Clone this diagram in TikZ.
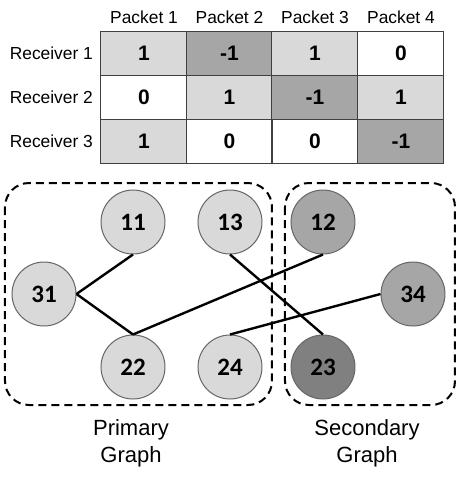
\documentclass[tikz,border=0pt]{standalone}
\usepackage{fontspec}
\setmainfont{Liberation Sans}
\newfontfamily\numfont{Carlito}
\begin{document}
\begin{tikzpicture}[x=0.5pt,y=-0.5pt,
head/.style={font=\fontsize{8.7}{10}\selectfont},
rowlabel/.style={anchor=east,font=\fontsize{8.7}{10}\selectfont},
cell/.style={draw=black!75,line width=0.5pt,minimum width=43pt,minimum height=22pt,inner sep=0,font=\fontsize{10.5}{12}\selectfont\bfseries},
lite/.style={fill=black!15},
dark/.style={fill=black!35},
vertex/.style={circle,draw=black!60,line width=0.5pt,minimum size=32pt,inner sep=0,font=\fontsize{12.5}{14}\selectfont\numfont\bfseries},
edge/.style={line width=1.2pt},
group/.style={draw,line width=1pt,dash pattern=on 4pt off 2.5pt,rounded corners=12pt},
caption/.style={align=center,font=\fontsize{11}{13.5}\selectfont},
]
\useasboundingbox (0,0) rectangle (457,484);
%header
\node[head](p1)at(144,17){Packet 1};
\node[head](p2)at(229.5,17){Packet 2};
\node[head](p3)at(315,17){Packet 3};
\node[head](p4)at(401,17){Packet 4};
%receivers
\node[rowlabel](r1)at(100,53){Receiver 1};
\node[rowlabel](r2)at(100,97){Receiver 2};
\node[rowlabel](r3)at(100,141){Receiver 3};
%table
\node[cell,lite](c11)at(144,53){1};
\node[cell,dark](c12)at(229.5,53){-1};
\node[cell,lite](c13)at(315,53){1};
\node[cell](c14)at(401,53){0};
\node[cell](c21)at(144,97){0};
\node[cell,lite](c22)at(229.5,97){1};
\node[cell,dark](c23)at(315,97){-1};
\node[cell,lite](c24)at(401,97){1};
\node[cell,lite](c31)at(144,141){1};
\node[cell](c32)at(229.5,141){0};
\node[cell](c33)at(315,141){0};
\node[cell,dark](c34)at(401,141){-1};

%groups
\draw[group](5,183) rectangle (272,405);
\draw[group](285,183) rectangle (455,405);
\node[caption](prim)at(131,443){Primary\\Graph};
\node[caption](sec)at(367,443){Secondary\\Graph};

%vertices
\node[vertex,fill=black!15](n11)at(133,222){11};
\node[vertex,fill=black!15](n13)at(230,222){13};
\node[vertex,fill=black!35](n12)at(323,222){12};
\node[vertex,fill=black!15](n31)at(44,294){31};
\node[vertex,fill=black!35](n34)at(413,294){34};
\node[vertex,fill=black!15](n22)at(133,367){22};
\node[vertex,fill=black!15](n24)at(230,367){24};
\node[vertex,fill=black!50](n23)at(323,367){23};

%edges
\draw[edge](n31.east)--(n11.south);
\draw[edge](n31.east)--(n22.north);
\draw[edge](n22.north)--(n12.south);
\draw[edge](n13.south)--(n23.north);
\draw[edge](n24.north)--(n34.west);

\end{tikzpicture}
\end{document}
